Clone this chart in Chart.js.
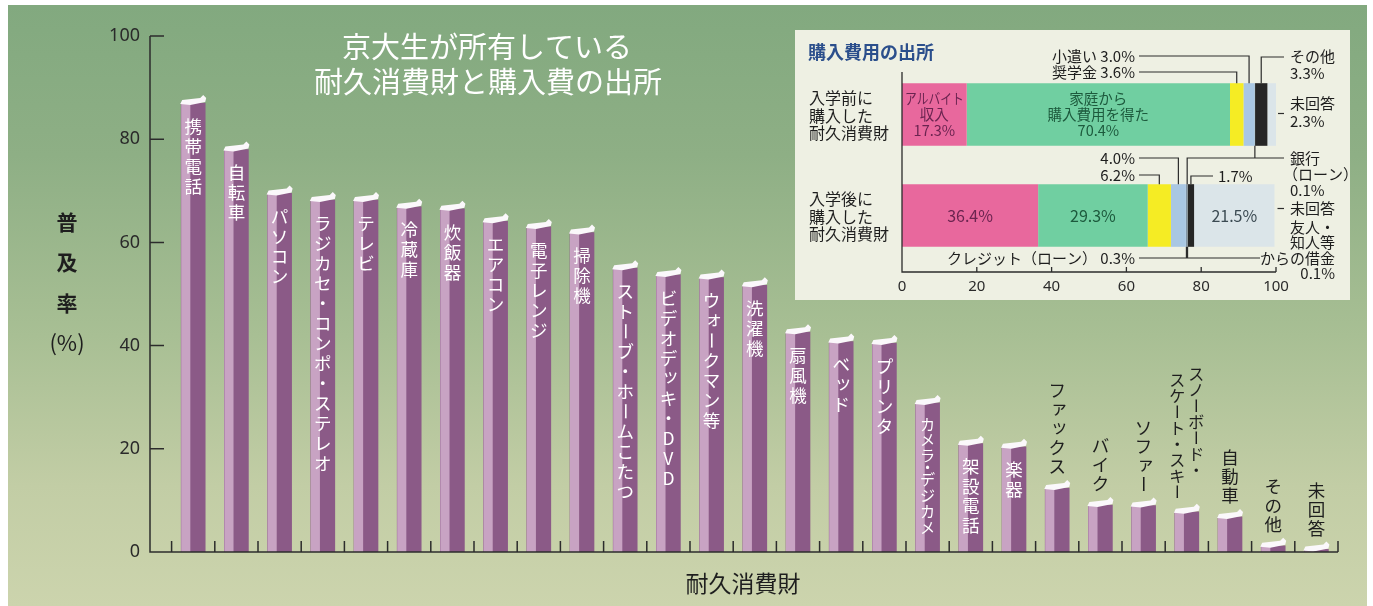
<!DOCTYPE html>
<html lang="ja">
<head>
<meta charset="utf-8">
<script src="https://cdn.jsdelivr.net/npm/chart.js@4"></script>
<style>
  body { margin: 0; background: #fff; }
  #wrap { position: relative; width: 1373px; height: 606px; overflow: hidden; background: #fff; }
  #panel { position: absolute; left: 8px; top: 5px; width: 1359px; height: 601px;
    background: linear-gradient(180deg, #82a97f 0%, #8eaf85 25%, #a8bf94 55%, #c2cda5 80%, #ccd4ad 100%); }
  #mainChart { position: absolute; left: 0; top: 0; }
  #insetBox { position: absolute; left: 795px; top: 30px; width: 555px; height: 270px; background: #eef0e3; }
</style>
</head>
<body>
<div id="wrap">
  <div id="panel"></div>
  <canvas id="mainChart" width="1373" height="606"></canvas>
  <div id="insetBox"><canvas id="insetChart" width="555" height="270"></canvas></div>
</div>
<script>
// 耐久消費財の普及率 (%)
const categories = ['携帯電話', '自転車', 'パソコン', 'ラジカセ・コンポ・ステレオ', 'テレビ', '冷蔵庫', '炊飯器',
  'エアコン', '電子レンジ', '掃除機', 'ストーブ・ホームこたつ', 'ビデオデッキ・DVD', 'ウォークマン等', '洗濯機',
  '扇風機', 'ベッド', 'プリンタ', 'カメラ・デジカメ', '架設電話', '楽器', 'ファックス', 'バイク', 'ソファー',
  'スノーボード・\nスケート・スキー', '自動車', 'その他', '未回答'];
const rates = [87.0, 78.0, 69.5, 68.2, 68.2, 66.9, 66.5, 64.1, 63.0, 61.9, 55.0, 53.7, 53.2, 51.7,
  42.6, 40.8, 40.5, 28.9, 21.0, 20.4, 12.4, 9.1, 9.0, 7.8, 6.8, 1.2, 0.5];
const yTicks = [0, 20, 40, 60, 80, 100];

// 購入費用の出所 (%)
const insetGroups = ['入学前に\n購入した\n耐久消費財', '入学後に\n購入した\n耐久消費財'];
const sources = ['アルバイト収入', '家庭から購入費用を得た', '奨学金', '小遣い', 'クレジット（ローン）',
  '銀行（ローン）', '友人・知人等からの借金', 'その他', '未回答'];
const beforeEntry = [17.3, 70.4, 3.6, 3.0, 0, 0.1, 0, 3.3, 2.3];
const afterEntry = [36.4, 29.3, 6.2, 4.0, 0.3, 0.1, 0.1, 1.7, 21.5];
const insetTicks = [0, 20, 40, 60, 80, 100];

const sourceColors = ['#e8689d', '#70cfa1', '#f5ec24', '#a9c7e3', '#7f93a5', '#5d6d7b', '#8a9bab', '#262626', '#dbe5e9'];
const JP = '"Noto Sans CJK JP", "Noto Sans", sans-serif';
const smallKana = 'ァィゥェォッャュョぁぃぅぇぉっゃゅょ';

// draw text top-to-bottom, one character at a time (dotW = share of a cell used by ・)
function drawVertical(ctx, text, cx, topY, pitch, size, dotW = 1) {
  ctx.font = `${size}px ${JP}`;
  ctx.textAlign = 'center';
  ctx.textBaseline = 'middle';
  let y = topY;
  [...text].forEach(ch => {
    const h = ch === '・' ? pitch * dotW : pitch;
    const cy = y + h / 2;
    if (ch === 'ー') {
      ctx.save();
      ctx.translate(cx, cy);
      ctx.rotate(Math.PI / 2);
      ctx.fillText(ch, 0, 0);
      ctx.restore();
    } else if (smallKana.includes(ch)) {
      ctx.fillText(ch, cx + size * 0.12, cy - size * 0.12);
    } else {
      ctx.fillText(ch, cx, cy);
    }
    y += h;
  });
}

// squeeze text horizontally when it is wider than maxW
function fitText(ctx, text, x, y, maxW) {
  const w = ctx.measureText(text).width;
  if (w <= maxW) { ctx.fillText(text, x, y); return; }
  ctx.save();
  ctx.translate(x, y);
  ctx.scale(maxW / w, 1);
  ctx.fillText(text, 0, 0);
  ctx.restore();
}

const mainDecor = {
  id: 'mainDecor',
  afterDatasetsDraw(chart) {
    const ctx = chart.ctx, xs = chart.scales.x, ys = chart.scales.y, a = chart.chartArea;
    const bars = chart.getDatasetMeta(0).data;
    ctx.save();

    bars.forEach((bar, i) => {
      const L = bar.x - bar.width / 2, R = bar.x + bar.width / 2, T = bar.y, B = bar.base;
      // light front face
      ctx.fillStyle = '#c8a3c3';
      ctx.fillRect(L, T, bar.width * 0.38, B - T);
      // white cap
      ctx.fillStyle = '#fbf8fb';
      ctx.beginPath();
      ctx.moveTo(L - 1, T + 1);
      ctx.lineTo(L + 1, T - 3);
      ctx.lineTo(R - 5, T - 5);
      ctx.lineTo(R - 2, T - 8);
      ctx.lineTo(R + 1, T - 5);
      ctx.lineTo(R, T - 1);
      ctx.lineTo(L + bar.width * 0.38, T + 2);
      ctx.closePath();
      ctx.fill();

      // category label
      const cols = categories[i].split('\n');
      if (rates[i] >= 20) {
        const chars = [...cols[0]];
        const room = B - T - 30;
        let dotW = 1, pitch = Math.min(20, room / chars.length);
        if (pitch < 20) {
          dotW = 0.5;
          const units = chars.reduce((s, c) => s + (c === '・' ? dotW : 1), 0);
          pitch = Math.min(20, room / units);
        }
        ctx.fillStyle = '#ffffff';
        drawVertical(ctx, cols[0], bar.x, T + 13, pitch, Math.min(17.5, pitch * 0.95), dotW);
      } else {
        const pitch = cols.length > 1 ? 16 : 19;
        const size = cols.length > 1 ? 16 : 17.5;
        const maxLen = Math.max(...cols.map(c => [...c].length));
        const top = T - 12 - maxLen * pitch;
        ctx.fillStyle = '#1e1e1e';
        cols.forEach((c, j) => {
          const cx = bar.x + ((cols.length - 1) / 2 - j) * 19;
          drawVertical(ctx, c, cx, top - (cols.length > 1 && j === 0 ? 6 : 0), pitch, size);
        });
      }
    });

    // axes with inward ticks
    ctx.strokeStyle = '#2c2c2c';
    ctx.lineWidth = 1.5;
    ctx.beginPath();
    ctx.moveTo(a.left, ys.getPixelForValue(100));
    ctx.lineTo(a.left, a.bottom);
    ctx.lineTo(xs.getPixelForValue(categories.length + 0.5), a.bottom);
    yTicks.forEach(v => {
      const py = ys.getPixelForValue(v);
      ctx.moveTo(a.left, py);
      ctx.lineTo(a.left + 14, py);
    });
    for (let k = 0; k <= categories.length; k++) {
      const px = xs.getPixelForValue(k + 0.5);
      ctx.moveTo(px, a.bottom);
      ctx.lineTo(px, a.bottom - 11);
    }
    ctx.stroke();

    // titles
    ctx.fillStyle = '#ffffff';
    ctx.textAlign = 'center';
    ctx.textBaseline = 'middle';
    ctx.font = `29px ${JP}`;
    ctx.fillText('京大生が所有している', 487, 47);
    ctx.fillText('耐久消費財と購入費の出所', 488, 82);

    ctx.fillStyle = '#1e1e1e';
    ctx.font = `bold 21px ${JP}`;
    ['普', '及', '率'].forEach((ch, k) => ctx.fillText(ch, 67, 222 + k * 40.5));
    ctx.font = `22px ${JP}`;
    ctx.fillText('(%)', 67, 343);
    ctx.font = `23px ${JP}`;
    ctx.fillText('耐久消費財', 743, 583);
    ctx.restore();
  }
};

new Chart(document.getElementById('mainChart'), {
  type: 'bar',
  data: {
    datasets: [{
      data: rates.map((v, i) => ({ x: i + 1, y: v })),
      backgroundColor: '#8b5a87',
      barThickness: 24
    }]
  },
  options: {
    responsive: false,
    animation: false,
    layout: { padding: { top: 36, right: 35, bottom: 54, left: 0 } },
    plugins: { legend: { display: false }, tooltip: { enabled: false } },
    scales: {
      x: { type: 'linear', min: 0, max: categories.length + 0.5, offset: false,
           grid: { offset: false }, display: false },
      y: {
        min: 0, max: 100,
        afterFit: s => { s.width = 150; },
        ticks: { stepSize: 20, color: '#2a2a2a', font: { family: 'Noto Sans', size: 18 }, padding: 10 },
        grid: { display: false, drawTicks: false },
        border: { display: false }
      }
    }
  },
  plugins: [mainDecor]
});

// inset: stacked horizontal bars
const insetDecor = {
  id: 'insetDecor',
  afterDatasetsDraw(chart) {
    const ctx = chart.ctx, xs = chart.scales.x, a = chart.chartArea;
    const seg = (k, i) => {
      const el = chart.getDatasetMeta(k).data[i];
      return { cx: (el.x + el.base) / 2, w: Math.abs(el.x - el.base), end: el.x, y: el.y,
               top: el.y - el.height / 2, bottom: el.y + el.height / 2 };
    };
    const axisY = a.bottom + 6;
    ctx.save();

    // axes
    ctx.strokeStyle = '#2c2c2c';
    ctx.lineWidth = 1.3;
    ctx.beginPath();
    ctx.moveTo(a.left, a.top + 8);
    ctx.lineTo(a.left, axisY);
    ctx.lineTo(xs.getPixelForValue(100), axisY);
    insetTicks.slice(1).forEach(v => {
      const px = xs.getPixelForValue(v);
      ctx.moveTo(px, axisY);
      ctx.lineTo(px, axisY - 5);
    });
    ctx.stroke();

    // title
    ctx.fillStyle = '#2b4f8c';
    ctx.font = `bold 18px ${JP}`;
    ctx.textAlign = 'left';
    ctx.textBaseline = 'middle';
    ctx.fillText('購入費用の出所', 13, 22);

    // group labels
    ctx.fillStyle = '#1e1e1e';
    ctx.font = `16px ${JP}`;
    insetGroups.forEach((g, i) => {
      const c = seg(0, i).y;
      g.split('\n').forEach((line, j) => ctx.fillText(line, 14, c + (j - 1) * 17.5 + 1));
    });

    // labels inside segments
    ctx.textAlign = 'center';
    const pct = v => v.toFixed(1) + '%';
    const inner = (k, i, lines, color, size) => {
      const s = seg(k, i);
      ctx.fillStyle = color;
      ctx.font = `${size}px ${JP}`;
      lines.forEach((line, j) => fitText(ctx, line, s.cx, s.y + (j - (lines.length - 1) / 2) * 16, s.w - 6));
    };
    inner(0, 0, ['アルバイト', '収入', pct(beforeEntry[0])], '#6b2450', 14.5);
    inner(1, 0, ['家庭から', '購入費用を得た', pct(beforeEntry[1])], '#1d5a3d', 14.5);
    inner(0, 1, [pct(afterEntry[0])], '#6b2450', 16);
    inner(1, 1, [pct(afterEntry[1])], '#1d5a3d', 16);
    inner(8, 1, [pct(afterEntry[8])], '#3b4a52', 16);

    // leader lines
    ctx.strokeStyle = '#2c2c2c';
    ctx.lineWidth = 1.2;
    const poly = pts => {
      ctx.beginPath();
      ctx.moveTo(pts[0][0], pts[0][1]);
      pts.slice(1).forEach(p => ctx.lineTo(p[0], p[1]));
      ctx.stroke();
    };
    const b0 = seg(0, 0), b1 = seg(0, 1);
    // left side
    poly([[344, 26], [seg(3, 0).cx, 26], [seg(3, 0).cx, b0.top]]);
    poly([[344, 42], [seg(2, 0).cx, 42], [seg(2, 0).cx, b0.top]]);
    poly([[344, 128], [seg(3, 1).cx, 128], [seg(3, 1).cx, b1.top]]);
    poly([[344, 145], [seg(2, 1).cx, 145], [seg(2, 1).cx, b1.top]]);
    poly([[344, 228], [seg(4, 1).cx, 228], [seg(4, 1).cx, b1.bottom]]);
    // right side
    poly([[seg(7, 0).cx, b0.top], [seg(7, 0).cx, 27], [489, 27]]);
    poly([[seg(8, 0).end + 2, b0.y - 1], [489, b0.y - 1]]);
    poly([[seg(5, 0).cx, b0.bottom], [seg(5, 0).cx, 128]]);
    poly([[seg(5, 1).cx, b1.top], [seg(5, 1).cx, 128], [489, 128]]);
    poly([[seg(7, 1).cx, b1.top], [seg(7, 1).cx, 146], [418, 146]]);
    poly([[seg(8, 1).end + 3, b1.y - 7], [489, b1.y - 7]]);
    poly([[seg(6, 1).cx, b1.bottom], [seg(6, 1).cx, 228], [465, 228]]);

    // annotation texts
    ctx.fillStyle = '#1e1e1e';
    ctx.font = `15px ${JP}`;
    ctx.textAlign = 'right';
    ctx.fillText('小遣い ' + pct(beforeEntry[3]), 340, 26);
    ctx.fillText('奨学金 ' + pct(beforeEntry[2]), 340, 42);
    ctx.fillText(pct(afterEntry[3]), 340, 128);
    ctx.fillText(pct(afterEntry[2]), 340, 145);
    ctx.fillText(sources[4] + ' ' + pct(afterEntry[4]), 340, 228);
    ['友人・', '知人等', 'からの借金', pct(afterEntry[6])].forEach((t, j) => ctx.fillText(t, 540, 197 + j * 15.5));
    ctx.textAlign = 'left';
    ctx.fillText('その他', 495, 26);
    ctx.fillText(pct(beforeEntry[7]), 495, 43);
    ctx.fillText('未回答', 495, b0.y - 11);
    ctx.fillText(pct(beforeEntry[8]), 495, b0.y + 7);
    ctx.fillText('銀行', 495, 128);
    ctx.fillText('（ローン）', 488, 144);
    ctx.fillText(pct(afterEntry[5]), 495, 160);
    ctx.fillText(pct(afterEntry[7]), 423, 146);
    ctx.fillText('未回答', 495, b1.y - 7);
    ctx.restore();
  }
};

new Chart(document.getElementById('insetChart'), {
  type: 'bar',
  data: {
    labels: insetGroups,
    datasets: sources.map((s, k) => ({
      label: s,
      data: [beforeEntry[k], afterEntry[k]],
      backgroundColor: sourceColors[k],
      barPercentage: 0.62,
      categoryPercentage: 1
    }))
  },
  options: {
    indexAxis: 'y',
    responsive: false,
    animation: false,
    layout: { padding: { top: 34, right: 74, bottom: 0, left: 0 } },
    plugins: { legend: { display: false }, tooltip: { enabled: false } },
    scales: {
      x: {
        stacked: true, min: 0, max: 100,
        afterFit: s => { s.height = 34; },
        ticks: { stepSize: 20, color: '#2a2a2a', font: { family: 'Noto Sans', size: 15 }, padding: 12, maxRotation: 0 },
        grid: { display: false, drawTicks: false },
        border: { display: false }
      },
      y: {
        stacked: true,
        afterFit: s => { s.width = 107; },
        ticks: { display: false },
        grid: { display: false, drawTicks: false },
        border: { display: false }
      }
    }
  },
  plugins: [insetDecor]
});
</script>
</body>
</html>
